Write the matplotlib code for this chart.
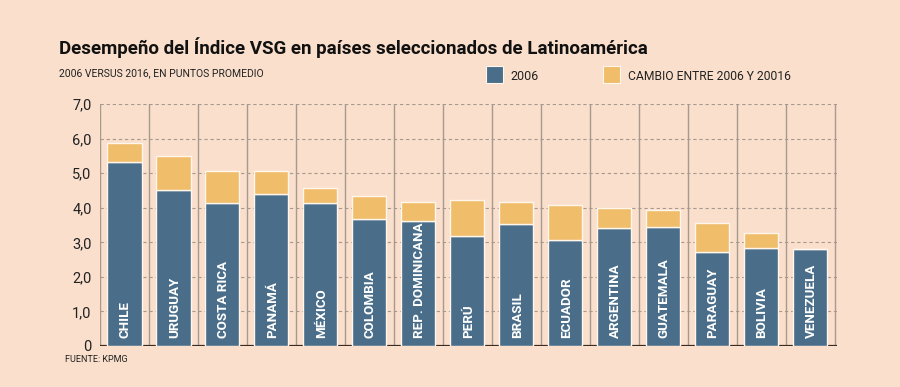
import matplotlib.pyplot as plt
import numpy as np

# Datos
paises = ['CHILE', 'URUGUAY', 'COSTA RICA', 'PANAMÁ', 'MÉXICO', 'COLOMBIA',
          'REP. DOMINICANA', 'PERÚ', 'BRASIL', 'ECUADOR', 'ARGENTINA',
          'GUATEMALA', 'PARAGUAY', 'BOLIVIA', 'VENEZUELA']
valor_2006 = [5.31, 4.50, 4.14, 4.41, 4.14, 3.68, 3.62, 3.17, 3.54, 3.07,
              3.41, 3.45, 2.73, 2.85, 2.80]
valor_2016 = [5.88, 5.49, 5.07, 5.07, 4.58, 4.33, 4.17, 4.22, 4.17, 4.07,
              4.00, 3.94, 3.55, 3.27, 2.80]
cambio = [b - a for a, b in zip(valor_2006, valor_2016)]
ticks_y = [0, 1, 2, 3, 4, 5, 6, 7]
etiquetas_y = ['0', '1,0', '2,0', '3,0', '4,0', '5,0', '6,0', '7,0']

fondo = '#F9DFCC'
azul = '#4A6E8A'
naranja = '#F0BD6B'
gris = '#A8998E'
fuente = ['Roboto', 'DejaVu Sans']

fig = plt.figure(figsize=(9, 3.87), dpi=100, facecolor=fondo)
ax = fig.add_axes([0.111, 0.106, 0.819, 0.625])
ax.set_facecolor(fondo)

x = np.arange(len(paises))

# Lineas de fondo
for yv in ticks_y[1:]:
    ax.axhline(yv, color=gris, lw=0.8, ls=(0, (3, 2.5)), zorder=1)
for xv in np.arange(-0.5, len(paises), 1.0):
    ax.plot([xv, xv], [0, 7], color=gris, lw=1.0, zorder=1)
ax.axhline(0, color='#3A2A20', lw=1.6, zorder=1)

# Barras apiladas
ax.bar(x, valor_2006, width=0.7, color=azul, edgecolor='#FFF6EC', lw=1.0, zorder=3)
ax.bar(x, cambio, bottom=valor_2006, width=0.7, color=naranja,
       edgecolor='#FFF6EC', lw=1.0, zorder=3)

# Nombres dentro de las barras
for i, p in enumerate(paises):
    ax.text(i + 0.02, 0.24, p, rotation=90, ha='center', va='bottom',
            color='white', fontsize=9.6, fontweight='bold', family=fuente, zorder=4)

ax.set_xlim(-0.5, len(paises) - 0.45)
ax.set_ylim(0, 7)
ax.set_xticks([])
ax.set_yticks(ticks_y)
ax.set_yticklabels(etiquetas_y, family=fuente, fontsize=10.5, color='#222222')
ax.tick_params(axis='y', length=0, pad=6)
for s in ax.spines.values():
    s.set_visible(False)

# Titulos
fig.text(0.066, 0.878, 'Desempeño del Índice VSG en países seleccionados de Latinoamérica',
         fontsize=13.5, fontweight='bold', family=fuente, color='#111111', va='center')
fig.text(0.066, 0.812, '2006 VERSUS 2016, EN PUNTOS PROMEDIO', fontsize=7.5,
         family=fuente, color='#222222', va='center')
fig.text(0.072, 0.07, 'FUENTE: KPMG', fontsize=6.5, family=fuente,
         color='#222222', va='center')

# Leyenda
fig.patches.append(plt.Rectangle((486 / 900, 1 - 83 / 387), 17 / 900, 17 / 387,
                                 transform=fig.transFigure, facecolor=azul,
                                 edgecolor='#FFF6EC', lw=0.8))
fig.text(510 / 900, 1 - 77 / 387, '2006', fontsize=9, family=fuente,
         color='#222222', va='center')
fig.patches.append(plt.Rectangle((603 / 900, 1 - 83 / 387), 17 / 900, 17 / 387,
                                 transform=fig.transFigure, facecolor=naranja,
                                 edgecolor='#FFF6EC', lw=0.8))
fig.text(628 / 900, 1 - 77 / 387, 'CAMBIO ENTRE 2006 Y 20016', fontsize=8.7,
         family=fuente, color='#222222', va='center')

plt.savefig('out.png', dpi=100, facecolor=fondo)
